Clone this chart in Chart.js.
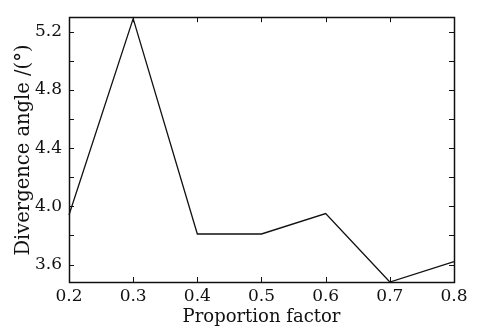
<!DOCTYPE html>
<html><head><meta charset="utf-8">
<script src="https://cdn.jsdelivr.net/npm/chart.js@4"></script>
<style>html,body{margin:0;padding:0;background:#fff}#wrap{width:477px;height:329px}</style>
</head><body><div id="wrap"><canvas id="c" width="477" height="329"></canvas></div>
<script>
const xValues = [0.2, 0.3, 0.4, 0.5, 0.6, 0.7, 0.8];
const yValues = [3.94, 5.29, 3.81, 3.81, 3.95, 3.48, 3.62];
const xTicks = [0.2, 0.3, 0.4, 0.5, 0.6, 0.7, 0.8];
const yTicks = [3.6, 3.8, 4.0, 4.2, 4.4, 4.6, 4.8, 5.0, 5.2];
const yLabeled = [3.6, 4.0, 4.4, 4.8, 5.2];
const xTitle = 'Proportion factor';
const yTitle = 'Divergence angle /(°)';

const FONT = 'DejaVu Serif';
const INK = '#111';

const frame = {
  id: 'frame',
  afterDatasetsDraw(chart) {
    const {ctx, chartArea: a, scales: {x, y}} = chart;
    ctx.save();
    ctx.strokeStyle = INK;
    ctx.lineWidth = 1;
    const L = 5;
    ctx.beginPath();
    yTicks.forEach(v => {
      const p = Math.round(y.getPixelForValue(v)) + 0.5;
      ctx.moveTo(a.left, p); ctx.lineTo(a.left + L, p);
      ctx.moveTo(a.right, p); ctx.lineTo(a.right - L, p);
    });
    xTicks.forEach(v => {
      const p = Math.round(x.getPixelForValue(v)) + 0.5;
      ctx.moveTo(p, a.bottom); ctx.lineTo(p, a.bottom - L);
      ctx.moveTo(p, a.top); ctx.lineTo(p, a.top + L);
    });
    ctx.stroke();
    ctx.lineWidth = 1.5;
    ctx.strokeRect(Math.round(a.left) + 0.5, Math.round(a.top) + 0.5, Math.round(a.right - a.left), Math.round(a.bottom - a.top));
    // y-axis title
    ctx.fillStyle = INK;
    ctx.font = '19.5px "' + FONT + '"';
    ctx.textAlign = 'center';
    ctx.textBaseline = 'middle';
    ctx.translate(24, 150);
    ctx.rotate(-Math.PI / 2);
    ctx.fillText(yTitle, 0, 0);
    ctx.restore();
  }
};

new Chart(document.getElementById('c'), {
  type: 'line',
  data: {
    datasets: [{
      data: xValues.map((v, i) => ({x: v, y: yValues[i]})),
      borderColor: INK,
      borderWidth: 1.3,
      pointRadius: 0,
      tension: 0,
      fill: false,
      clip: false
    }]
  },
  options: {
    responsive: false,
    animation: false,
    events: [],
    layout: {padding: {top: 5, right: 23, bottom: 0, left: 0}},
    plugins: {legend: {display: false}, tooltip: {enabled: false}},
    scales: {
      x: {
        type: 'linear', min: 0.2, max: 0.8,
        afterBuildTicks: s => { s.ticks = xTicks.map(v => ({value: v})); },
        afterFit: s => { s.height = 47; },
        grid: {display: false, drawTicks: false},
        border: {display: false},
        ticks: {
          padding: 4, color: INK, maxRotation: 0, autoSkip: false,
          font: {family: FONT, size: 17},
          callback: v => Number(v).toFixed(1)
        },
        title: {display: true, text: xTitle, color: INK, font: {family: FONT, size: 18}, padding: {top: 0, bottom: 1}}
      },
      y: {
        type: 'linear', min: 3.48, max: 5.3,
        afterBuildTicks: s => { s.ticks = yTicks.map(v => ({value: v})); },
        afterFit: s => { s.width = 69; },
        grid: {display: false, drawTicks: false},
        border: {display: false},
        ticks: {
          padding: 7, color: INK, autoSkip: false,
          font: {family: FONT, size: 17},
          callback: v => yLabeled.some(t => Math.abs(t - v) < 1e-6) ? Number(v).toFixed(1) : ''
        },
        title: {display: false}
      }
    }
  },
  plugins: [frame]
});
</script>
</body></html>
